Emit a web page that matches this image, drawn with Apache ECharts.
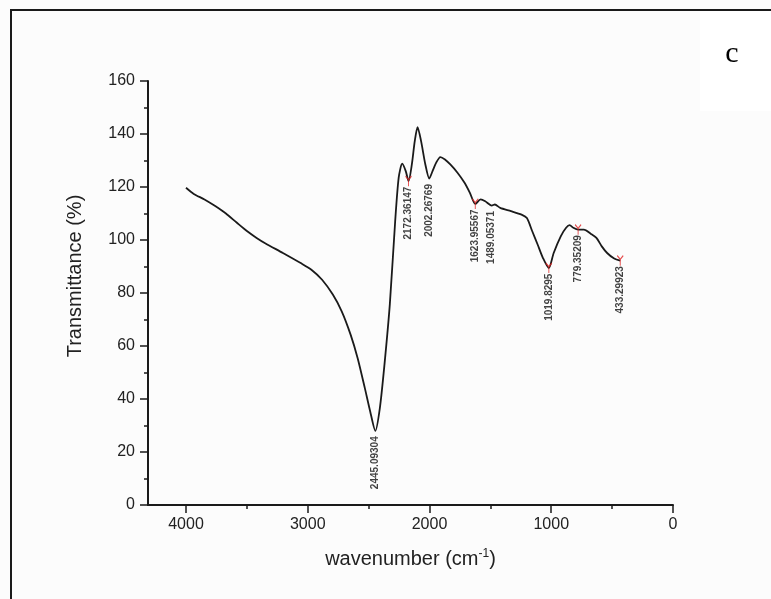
<!DOCTYPE html>
<html>
<head>
<meta charset="utf-8">
<script src="https://cdn.jsdelivr.net/npm/echarts@6/dist/echarts.min.js"></script>
<style>
html,body{margin:0;padding:0;background:#fcfcfc;}
#chart{width:771px;height:599px;}
</style>
</head>
<body>
<div id="chart"></div>
<script>
// Spectrum (wavenumber in cm^-1, transmittance in %)
var wavenumbers = [4000,3936,3848,3760,3672,3584,3497,3420,3350,3204,3058,2970,2882,2794,2721,2648,2590,2531,2487,2445,2408,2370,2326,2282,2253,2224,2195,2172,2145,2121,2098,2069,2034,2002,1975,1946,1911,1873,1829,1770,1712,1668,1624,1580,1542,1489,1463,1419,1331,1244,1200,1156,1112,1068,1020,980,922,878,849,819,779,732,673,629,585,541,483,433];
var transmittance = [119.7,117.4,115.3,112.8,110.0,106.6,103.3,100.8,98.8,95.1,91.3,88.8,85.0,79.4,73.1,64.3,55.4,44.1,35.3,28.0,36.5,52.9,75.6,107,123.5,128.8,126,122.2,128.5,137.3,142.6,137.3,128.5,123.2,126,129.1,131.3,130.4,128.5,125.4,121.6,117.8,113.6,115.3,114.6,113,113.4,112.1,110.9,109.6,108.3,103.3,98.3,93.2,89.4,95.1,101.4,104.6,105.6,104.6,103.9,103.9,102.3,100.8,97.6,95.1,93.0,92.2];

// Peak annotations
var peakWn = [2445.09304,2172.36147,2002.26769,1623.95567,1489.05371,1019.8295,779.35209,433.29923];
var peakT = [28.0,122.2,123.2,113.6,113.0,89.4,103.9,92.2];
var peakLabels = ['2445.09304','2172.36147','2002.26769','1623.95567','1489.05371','1019.8295','779.35209','433.29923'];
// peaks carrying a red marker (indices into the peak arrays)
var markedPeaks = [1,3,5,6,7];

// Axis ticks
var xMajorTicks = [0,1000,2000,3000,4000];
var xMinorTicks = [500,1500,2500,3500];
var xMax = 4312;
var yMin = 0, yMax = 160, yInterval = 20;

var lineData = wavenumbers.map(function(w,i){return [w, transmittance[i]];});
var peakData = peakWn.map(function(w,i){return {value:[w, peakT[i]], name: peakLabels[i]};});
var markData = markedPeaks.map(function(i){return [peakWn[i], peakT[i]];});

var chart = echarts.init(document.getElementById('chart'), null, {renderer:'canvas'});
var axisColor = '#1a1a1a';
var font = 'Liberation Sans, Arial, sans-serif';
chart.setOption({
  backgroundColor: '#fcfcfc',
  animation: false,
  grid: {left:148, right:98, top:81, bottom:94, containLabel:false},
  xAxis: [{
    type:'value', inverse:true, min:0, max:xMax,
    axisLine:{show:true, onZero:false, lineStyle:{color:axisColor, width:2}},
    axisTick:{show:true, inside:false, length:8, customValues:xMajorTicks, lineStyle:{color:axisColor, width:1.5}},
    axisLabel:{customValues:xMajorTicks, margin:12, fontSize:16, color:'#222', fontFamily:font, formatter:function(v){return String(v);}},
    splitLine:{show:false},
    name:'wavenumber (cm{sup|-1})', nameLocation:'middle', nameGap:43,
    nameTextStyle:{fontSize:20, color:'#222', fontFamily:font, rich:{sup:{fontSize:12, verticalAlign:'top', padding:[0,0,10,0], fontFamily:font, color:'#222'}}}
  },{
    type:'value', inverse:true, min:0, max:xMax, position:'bottom',
    axisLine:{show:false, onZero:false},
    axisTick:{show:true, inside:false, length:4, customValues:xMinorTicks, lineStyle:{color:axisColor, width:1.5}},
    axisLabel:{show:false}, splitLine:{show:false}
  }],
  yAxis: {
    type:'value', min:yMin, max:yMax, interval:yInterval, position:'left',
    axisLine:{show:true, onZero:false, lineStyle:{color:axisColor, width:2}},
    axisTick:{show:true, inside:false, length:8, lineStyle:{color:axisColor, width:1.5}},
    minorTick:{show:true, splitNumber:2, length:4, lineStyle:{color:axisColor, width:1.5}},
    axisLabel:{margin:13, fontSize:16, color:'#222', fontFamily:font},
    splitLine:{show:false}
  },
  graphic: [
    {type:'rect', shape:{x:700, y:11, width:71, height:100}, style:{fill:'#ffffff'}, silent:true, z:-1},
    {type:'line', shape:{x1:10, y1:10, x2:771, y2:10}, style:{stroke:'#1a1a1a', lineWidth:2}},
    {type:'line', shape:{x1:11, y1:9, x2:11, y2:599}, style:{stroke:'#1a1a1a', lineWidth:2}},
    {type:'text', x:732, y:54, style:{text:'c', font:'30px "Liberation Serif", "DejaVu Serif", serif', fill:'#000', textAlign:'center', textVerticalAlign:'middle'}},
    {type:'text', x:75, y:276, rotation:Math.PI/2, style:{text:'Transmittance (%)', font:'20px "Liberation Sans", Arial, sans-serif', fill:'#222', textAlign:'center', textVerticalAlign:'middle'}}
  ],
  series: [{
    type:'line', data:lineData, showSymbol:false, smooth:0.25,
    lineStyle:{color:'#1a1a1a', width:1.8}, z:3
  },{
    type:'scatter', data:peakData, symbolSize:1, itemStyle:{color:'transparent'},
    label:{show:true, formatter:function(p){return p.name;}, position:'bottom', distance:5, rotate:90, align:'right', verticalAlign:'middle', fontSize:10, fontWeight:'bold', color:'#111', fontFamily:font},
    z:4
  },{
    type:'scatter', data:markData, symbol:'path://M-3,-4 L0,0 L3,-4 M0,0 L0,7', symbolSize:[6,10], symbolKeepAspect:false,
    itemStyle:{color:'transparent', borderColor:'#e02020', borderWidth:1.2}, z:5
  }]
});
</script>
</body>
</html>
